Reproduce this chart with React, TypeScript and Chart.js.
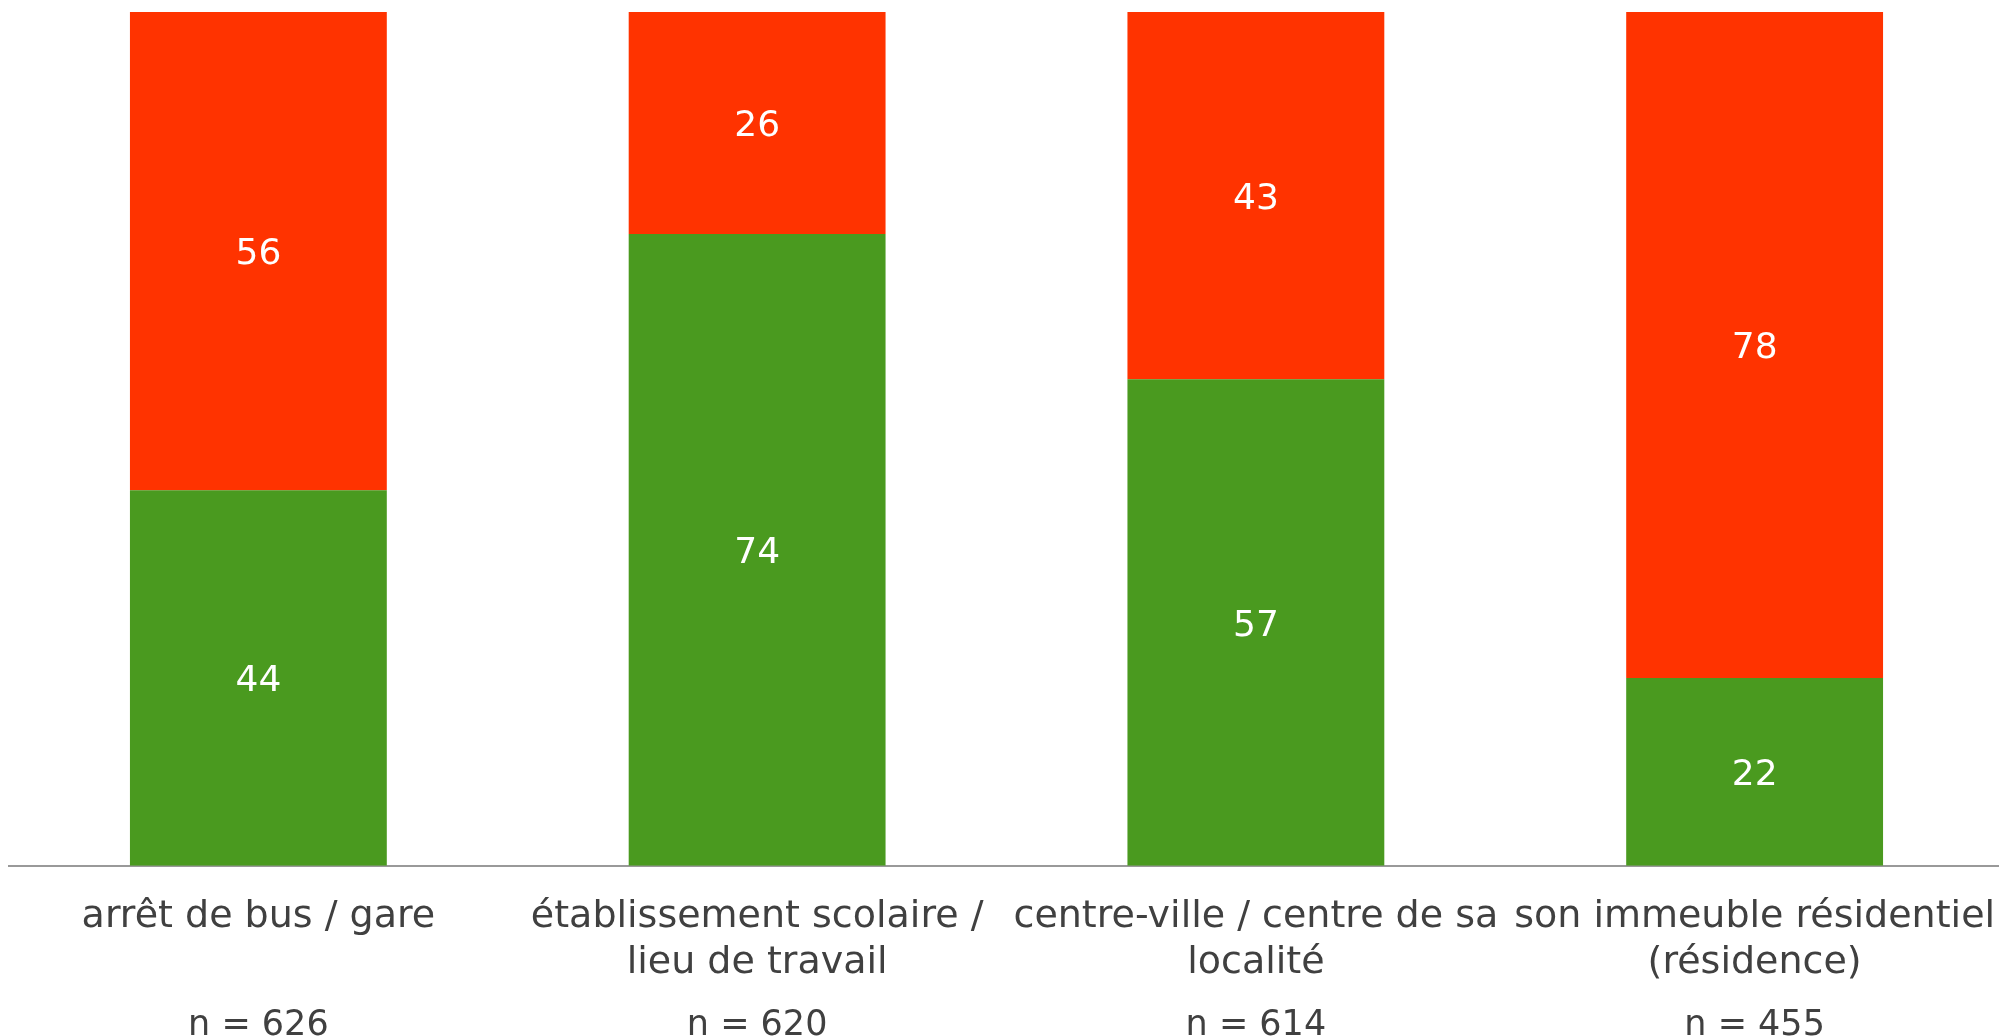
import React, { useEffect, useRef } from "react";
import { Chart, registerables } from "chart.js";

Chart.register(...registerables);

const categories: string[][] = [
  ["arrêt de bus / gare"],
  ["établissement scolaire /", "lieu de travail"],
  ["centre-ville / centre de sa", "localité"],
  ["son immeuble résidentiel", "(résidence)"],
];
const sampleSizes: string[] = ["n = 626", "n = 620", "n = 614", "n = 455"];
const greenValues: number[] = [44, 74, 57, 22];
const redValues: number[] = [56, 26, 43, 78];

const GREEN = "#4A9A1F";
const RED = "#FF3300";
const FONT = "'DejaVu Sans', Verdana, sans-serif";

const valueLabels = {
  id: "valueLabels",
  afterDatasetsDraw(chart: any) {
    const ctx = chart.ctx;
    ctx.save();
    ctx.fillStyle = "#ffffff";
    ctx.font = `36px ${FONT}`;
    ctx.textAlign = "center";
    ctx.textBaseline = "middle";
    chart.data.datasets.forEach((ds: any, di: number) => {
      const meta = chart.getDatasetMeta(di);
      meta.data.forEach((el: any, i: number) => {
        const v = ds.data[i];
        const { x, y, base } = el.getProps(["x", "y", "base"], true);
        ctx.fillText(String(v), x, (y + base) / 2 + 4);
      });
    });
    ctx.restore();
  },
};

const noSidePadding = (scale: any) => {
  scale.paddingLeft = 0;
  scale.paddingRight = 0;
};

export default function App() {
  const ref = useRef<HTMLCanvasElement | null>(null);
  useEffect(() => {
    document.documentElement.style.overflow = "hidden";
    document.body.style.margin = "0";
    const chart = new Chart(ref.current as HTMLCanvasElement, {
      type: "bar",
      data: {
        labels: categories,
        datasets: [
          {
            label: "oui",
            data: greenValues,
            backgroundColor: GREEN,
            barPercentage: 0.515,
            categoryPercentage: 1,
          },
          {
            label: "non",
            data: redValues,
            backgroundColor: RED,
            barPercentage: 0.515,
            categoryPercentage: 1,
          },
        ],
      },
      plugins: [valueLabels],
      options: {
        animation: false,
        responsive: false,
        maintainAspectRatio: false,
        layout: { padding: { top: 4, left: 1, right: 1, bottom: 0 } },
        plugins: {
          legend: { display: false },
          tooltip: { enabled: false },
          title: { display: false },
        },
        scales: {
          x: {
            stacked: true,
            weight: 0,
            grid: { display: false, drawTicks: false },
            border: { display: true, color: "#999999", width: 2 },
            afterFit: (scale: any) => {
              noSidePadding(scale);
              scale.height -= 20;
            },
            ticks: {
              color: "#404040",
              font: { family: FONT, size: 38, lineHeight: 1.2 },
              padding: 28.5,
              maxRotation: 0,
              autoSkip: false,
            },
          },
          x2: {
            type: "category",
            labels: sampleSizes,
            position: "bottom",
            weight: 1,
            grid: { display: false, drawTicks: false },
            border: { display: false },
            afterFit: noSidePadding,
            ticks: {
              color: "#404040",
              font: { family: FONT, size: 35, lineHeight: 1.2 },
              padding: 10.5,
              maxRotation: 0,
              autoSkip: false,
            },
          },
          y: {
            stacked: true,
            display: false,
            min: 0,
            max: 100,
          },
        },
      },
    });
    return () => chart.destroy();
  }, []);
  return (
    <div
      style={{
        paddingLeft: 8,
        paddingTop: 8,
        width: 1999,
        height: 1036,
        overflow: "hidden",
        boxSizing: "border-box",
      }}
    >
      <canvas ref={ref} width={1997} height={1049} style={{ width: 1997, height: 1049, display: "block" }} />
    </div>
  );
}
